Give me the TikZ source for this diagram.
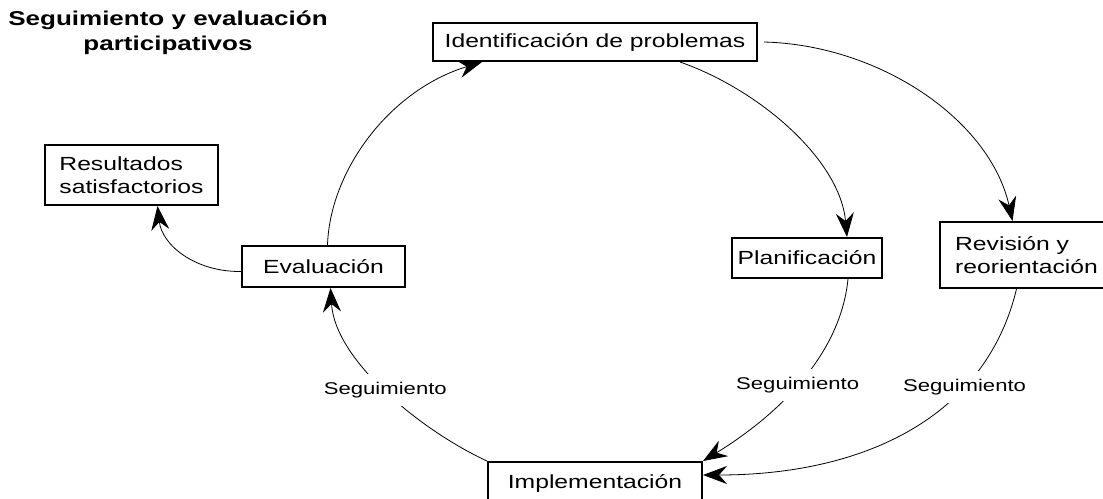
\documentclass[tikz,border=0pt]{standalone}
\usepackage{fontspec}
\setmainfont{Liberation Sans}[FakeStretch=1.3]
\usepackage{tikz}
\usetikzlibrary{arrows,arrows.meta}

\begin{document}
\begin{tikzpicture}[x=1pt,y=-1pt]
    \tikzset{box/.style = {shape=rectangle, draw, line width=2pt, font=\fontsize{19}{23}\selectfont, inner sep=0pt}}
    \tikzset{link/.style = {draw, line width=0.8pt, -{Stealth[length=24pt,width=18pt,inset=8pt]}}}
    \tikzset{tag/.style = {fill=white, font=\fontsize{17}{20}\selectfont, inner xsep=3pt, inner ysep=8pt}}

    \useasboundingbox (0,0) rectangle (1103,498);

    % title
    \node[font=\bfseries\fontsize{20}{25}\selectfont, align=center] (title) at (168,33) {Seguimiento y evaluación\\participativos};

    % vertices
    \node[box, minimum width=324pt, minimum height=38pt] (ident) at (595,42) {Identificación de problemas};
    \node[box, minimum width=173pt, minimum height=60pt, align=left] (result) at (131.5,175) {Resultados\\satisfactorios};
    \node[box, minimum width=163pt, minimum height=41pt] (eval) at (323.5,266.5) {Evaluación};
    \node[box, minimum width=150pt, minimum height=40pt] (plan) at (807,258) {Planificación};
    \node[box, minimum width=173pt, minimum height=66pt, align=left] (revis) at (1026.5,255) {Revisión y\\reorientación};
    \node[box, minimum width=214pt, minimum height=42pt] (impl) at (595,483) {Implementación};

    % edges
    \draw[link] ([xshift=4pt]eval.north) .. controls (330,170) and (390,90) .. ([xshift=50pt]ident.south west);
    \draw[link] ([xshift=85pt]ident.south) .. controls (760,90) and (840,160) .. ([xshift=40pt]plan.north);
    \draw[link] ([xshift=6pt]ident.east) .. controls (880,45) and (990,120) .. ([xshift=-14pt]revis.north);
    \draw[link] ([xshift=41pt]plan.south) .. controls (840,360) and (770,420) .. (impl.north east) node[tag, pos=0.5] {Seguimiento};
    \draw[link] ([xshift=-10pt]revis.south) .. controls (985,420) and (860,475) .. ([yshift=8pt]impl.east) node[tag, pos=0.3] {Seguimiento};
    \draw[link] (impl.north west) .. controls (420,430) and (335,360) .. ([xshift=7pt]eval.south) node[tag, pos=0.5] {Seguimiento};
    \draw[link] ([yshift=-5pt]eval.west) .. controls (195,272) and (162,245) .. ([xshift=26pt]result.south);
\end{tikzpicture}
\end{document}
